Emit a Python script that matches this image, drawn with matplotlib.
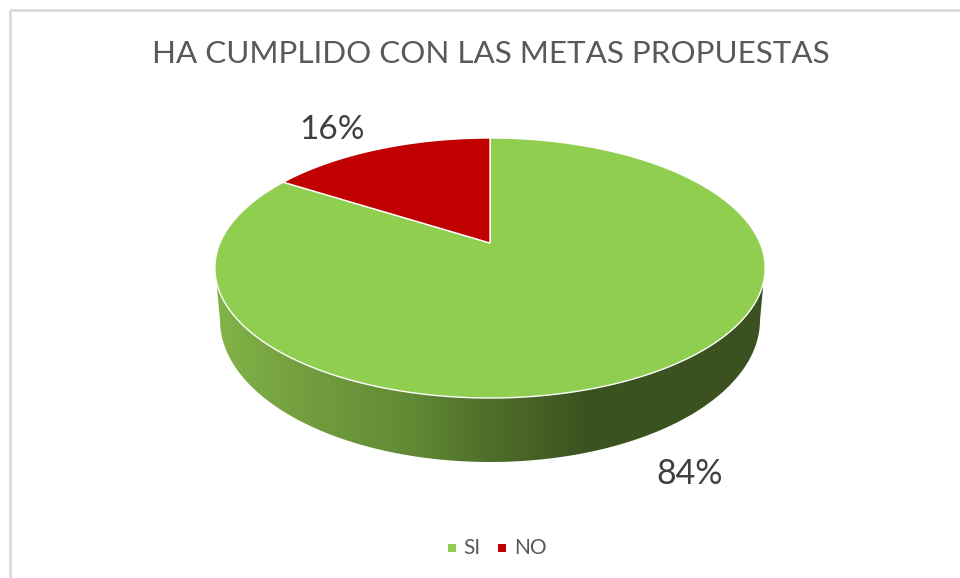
import numpy as np
import matplotlib.pyplot as plt
from matplotlib.colors import LinearSegmentedColormap
from matplotlib.patches import Polygon, Rectangle

plt.rcParams['font.family'] = ['Lato', 'DejaVu Sans']

titulo = "HA CUMPLIDO CON LAS METAS PROPUESTAS"
categorias = ["SI", "NO"]
valores = [84, 16]
colores = ["#90CE50", "#C00000"]
gris = "#595959"

# pie geometry in pixels, the top face is a circle seen in perspective
cx, cy = 490, 243
a, b, k = 270, 125.2, 0.1923


def top_face(t):
    d = 1 + k * np.sin(t)
    return cx + a * np.cos(t) / d, cy - b * np.sin(t) / d


fig = plt.figure(figsize=(9.6, 5.78), dpi=100)
ax = fig.add_axes([0, 0, 1, 1])

# side of the pie, drawn first and then covered by the top face
t_low = np.linspace(np.pi, 2 * np.pi, 200)
side_x = 490 + 270 * np.cos(t_low)
side_y = 320 - 142 * np.sin(t_low)
side_pts = np.column_stack([
    np.r_[217, side_x, 763, 763, 490, 217],
    np.r_[288, side_y, 288, 260, 260, 260],
])
side_cmap = LinearSegmentedColormap.from_list("side", [
    (0.0, "#82B347"), (0.15, "#739F3F"), (0.35, "#628A35"),
    (0.5, "#4F6E2A"), (0.68, "#3B5220"), (1.0, "#3B5220"),
])
img = ax.imshow(np.linspace(0, 1, 256).reshape(1, -1), cmap=side_cmap, aspect='auto',
                extent=(217, 763, 470, 260), zorder=1)
clip = Polygon(side_pts, closed=True, transform=ax.transData)
img.set_clip_path(clip)

# top face, one wedge per value, SI clockwise from twelve o'clock
inicio = np.pi / 2
for valor, color in zip(valores, colores):
    fin = inicio - 2 * np.pi * valor / sum(valores)
    t = np.linspace(inicio, fin, 300)
    x, y = top_face(t)
    ax.fill(np.r_[cx, x], np.r_[cy, y], facecolor=color, edgecolor="white",
            linewidth=1.0, joinstyle='round', zorder=2)
    inicio = fin

ax.text(690, 474, f"{valores[0]}%", color="#404040", fontsize=24.5, ha='center', va='center')
ax.text(332, 130, f"{valores[1]}%", color="#404040", fontsize=24, ha='center', va='center')

ax.text(490.5, 54, titulo, color=gris, fontsize=22.6, ha='center', va='center')

# legend
for cat, color, x_m, x_t in zip(categorias, colores, [452, 502], [463, 514]):
    ax.scatter([x_m], [548], marker='s', s=30, color=color, linewidths=0)
    ax.text(x_t, 548, cat, color=gris, fontsize=15, ha='left', va='center')

# chart border, only top and left stay inside the crop
ax.add_patch(Rectangle((10, 9.5), 1000, 620, fill=False, edgecolor="#D9D9D9", linewidth=2))

ax.set_xlim(0, 960)
ax.set_ylim(578, 0)
ax.axis('off')

fig.savefig("out.png", dpi=100)
